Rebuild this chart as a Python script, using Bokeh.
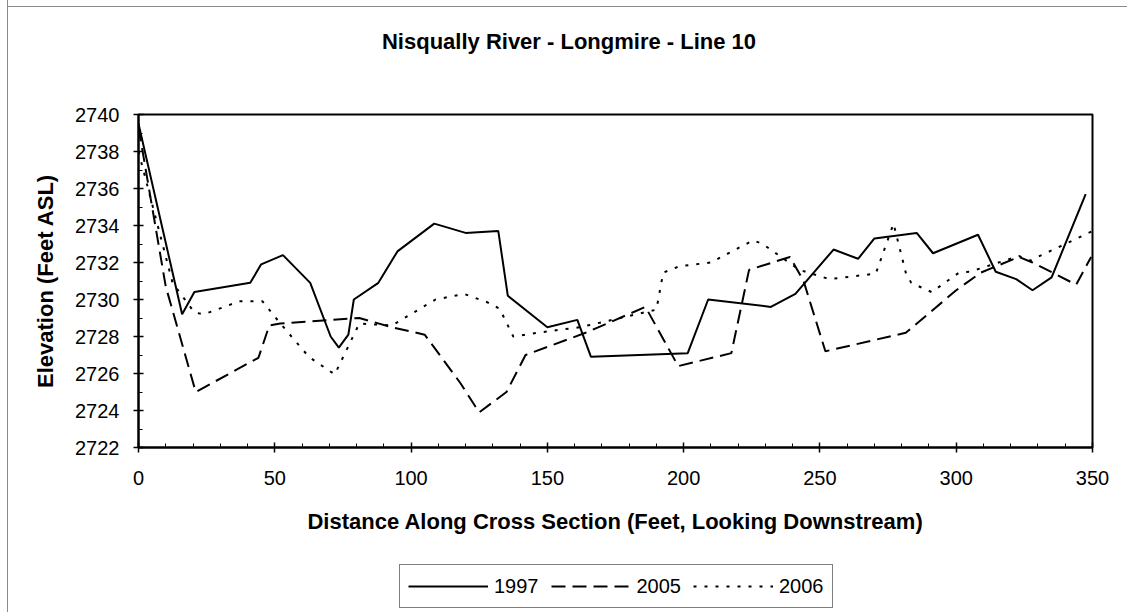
from bokeh.plotting import figure
from bokeh.models import (Range1d, SingleIntervalTicker, Legend, LegendItem, Label, Spacer)
from bokeh.layouts import column, row
from bokeh.embed import file_html
from bokeh.resources import INLINE

# ---- data ----
x_1997 = [0, 16, 20.5, 41, 45, 53, 63, 70.5, 73.5, 77, 79, 88, 95, 108.5, 120,
          132, 135.5, 150, 161, 166, 201.5, 209, 232, 241, 255, 264, 270, 285.5,
          291.5, 308, 314.5, 322, 328, 335, 347.5]
y_1997 = [2739.5, 2729.2, 2730.4, 2730.9, 2731.9, 2732.4, 2730.9, 2728.0, 2727.4,
          2728.1, 2730.0, 2730.9, 2732.6, 2734.1, 2733.6, 2733.7, 2730.2, 2728.5,
          2728.9, 2726.9, 2727.1, 2730.0, 2729.6, 2730.3, 2732.7, 2732.2, 2733.3,
          2733.6, 2732.5, 2733.5, 2731.5, 2731.1, 2730.5, 2731.2, 2735.7]

x_2005 = [0, 10, 21, 44, 48, 52, 81, 93, 105, 118, 125, 135, 142, 164, 186, 198,
          217.5, 224, 231.5, 239, 244, 252, 281.5, 300, 309, 323, 328, 344, 349.5]
y_2005 = [2739.3, 2730.7, 2725.0, 2726.85, 2728.6, 2728.7, 2729.0, 2728.5, 2728.1,
          2725.5, 2723.9, 2725.0, 2727.0, 2728.2, 2729.6, 2726.4, 2727.1, 2731.6,
          2731.95, 2732.3, 2731.0, 2727.2, 2728.2, 2730.5, 2731.45, 2732.3, 2732.0,
          2730.8, 2732.3]

x_2006 = [0, 12.5, 20.5, 24, 37, 45.5, 51.5, 62.5, 72, 81, 93, 109, 119.5, 128,
          132.5, 137.5, 151, 162, 190, 192.5, 198.5, 210, 225.5, 229, 242.5, 253.5,
          270.5, 277, 281.5, 283.5, 291, 301, 305, 323, 327, 340, 350]
y_2006 = [2738.0, 2730.9, 2729.3, 2729.2, 2729.9, 2729.9, 2728.8, 2726.9, 2725.95,
          2728.7, 2728.6, 2730.0, 2730.3, 2729.85, 2729.5, 2728.0, 2728.3, 2728.5,
          2729.45, 2731.45, 2731.8, 2732.0, 2733.2, 2733.0, 2731.6, 2731.1, 2731.4,
          2734.1, 2731.45, 2730.9, 2730.4, 2731.45, 2731.5, 2732.35, 2732.1, 2733.0,
          2733.7]

series_names = ["1997", "2005", "2006"]
series_dash = ["solid", "14 7", "3 8"]
x_ticks_interval = 50
y_ticks_interval = 2

title_text = "Nisqually River - Longmire - Line 10"
x_label = "Distance Along Cross Section (Feet, Looking Downstream)"
y_label = "Elevation (Feet ASL)"

FONT = "Liberation Sans"
W = 1119                 # width of every stacked figure
H_TITLE, H_MAIN, H_LEG = 60, 477, 67
FL, FR, FT, FB = 130, 1084, 47, 380   # main frame edges inside the main figure

series = [(x_1997, y_1997), (x_2005, y_2005), (x_2006, y_2006)]

# ---------------- title strip (frames of a column line up with the main one) -------
ft = figure(width=W, height=H_TITLE, output_backend="svg", toolbar_location=None,
            x_axis_type=None, y_axis_type=None, x_range=Range1d(FL, FR),
            y_range=Range1d(0, H_TITLE), min_border=0)
ft.outline_line_color = None
ft.xgrid.visible = False
ft.ygrid.visible = False
ft.add_layout(Label(x=560.5, y=26, text=title_text, text_align="center",
                    text_baseline="alphabetic", text_font=FONT, text_font_size="22px",
                    text_font_style="bold", text_color="black"))

# ---------------- main chart ----------------
p = figure(width=W, height=H_MAIN, output_backend="svg", toolbar_location=None,
           x_range=Range1d(0, 350), y_range=Range1d(2722, 2740),
           min_border_left=FL, min_border_right=W - FR,
           min_border_top=FT, min_border_bottom=H_MAIN - FB)
p.background_fill_color = "white"
p.border_fill_color = "white"
p.outline_line_color = "black"
p.outline_line_width = 2
p.xgrid.visible = False
p.ygrid.visible = False

p.xaxis.ticker = SingleIntervalTicker(interval=x_ticks_interval, num_minor_ticks=5)
p.yaxis.ticker = SingleIntervalTicker(interval=y_ticks_interval, num_minor_ticks=2)

for ax in (p.xaxis[0], p.yaxis[0]):
    ax.axis_line_color = "black"
    ax.axis_line_width = 2
    ax.major_tick_line_color = "black"
    ax.major_tick_line_width = 1.5
    ax.major_tick_in = 5
    ax.major_tick_out = 5
    ax.minor_tick_line_color = "black"
    ax.minor_tick_line_width = 1
    ax.minor_tick_in = 4
    ax.minor_tick_out = 0
    ax.major_label_text_font = FONT
    ax.major_label_text_font_size = "20px"
    ax.major_label_text_color = "black"
    ax.axis_label_text_font = FONT
    ax.axis_label_text_font_size = "22px"
    ax.axis_label_text_font_style = "bold"
    ax.axis_label_text_color = "black"

p.xaxis.axis_label = x_label
p.yaxis.axis_label = y_label
p.xaxis.major_label_standoff = 18
p.xaxis.axis_label_standoff = 21
p.yaxis.major_label_standoff = 14
p.yaxis.axis_label_standoff = 14

for (xs, ys), dash in zip(series, series_dash):
    p.line(xs, ys, line_color="black", line_width=2, line_dash=dash)

# ---------------- legend strip ----------------
fl = figure(width=W, height=H_LEG, output_backend="svg", toolbar_location=None,
            x_axis_type=None, y_axis_type=None, x_range=Range1d(FL, FR),
            y_range=Range1d(0, 1), min_border=0)
fl.outline_line_color = None
fl.xgrid.visible = False
fl.ygrid.visible = False
items = []
for name, (xs, ys), dash in zip(series_names, series, series_dash):
    # same series drawn in this strip only to key the legend (outside its ranges)
    r = fl.line(xs, ys, line_color="black", line_width=2, line_dash=dash)
    items.append(LegendItem(label=name, renderers=[r]))
legend = Legend(items=items, orientation="horizontal", location=(261, 3),
                glyph_width=80, glyph_height=26, label_height=26, label_standoff=6,
                spacing=12, padding=8, margin=0,
                border_line_color="black", border_line_width=1,
                label_text_font=FONT, label_text_font_size="20px",
                label_text_color="black", background_fill_color="white")
fl.add_layout(legend, "center")

# ---------------- page frame (thin grey edge at top and left) ----------------
left_edge = Spacer(width=8, height=612, styles={"border-right": "1px solid #8a8a8a"})
top_edge = Spacer(width=W, height=7, styles={"border-bottom": "1px solid #8a8a8a"})
layout = row(left_edge, column(top_edge, ft, p, fl, spacing=0), spacing=0)

open("out.html", "w").write(file_html(layout, INLINE))
